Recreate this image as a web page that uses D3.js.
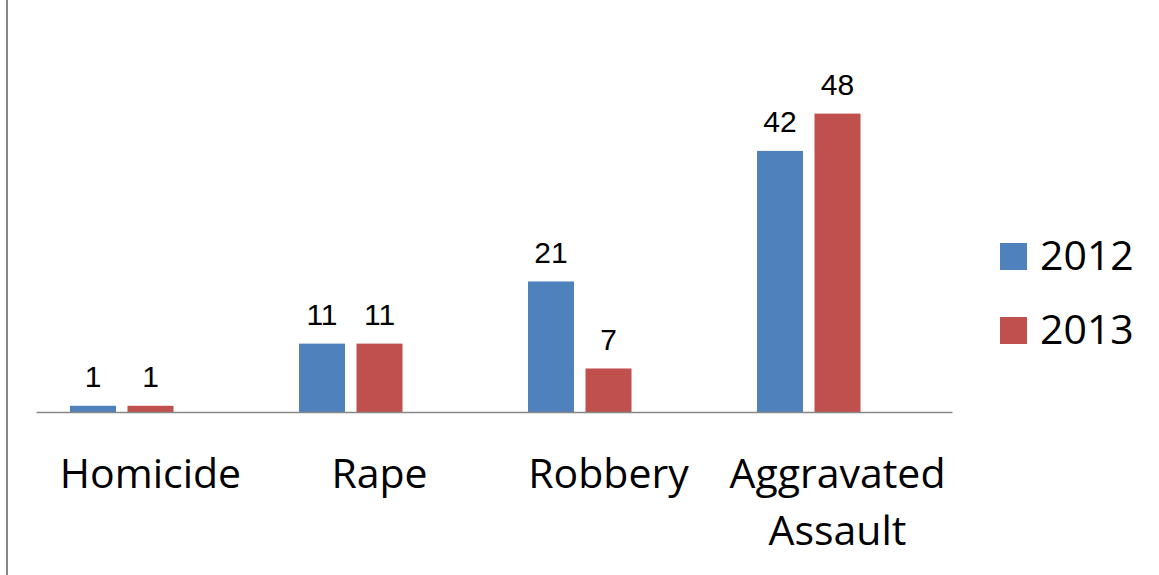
<!DOCTYPE html>
<html>
<head>
<meta charset="utf-8">
<script src="https://cdn.jsdelivr.net/npm/d3@7"></script>
<style>
  html, body { margin: 0; padding: 0; background: #fff; }
  svg { display: block; }
</style>
</head>
<body>
<svg id="chart" width="1159" height="575"></svg>
<script>
// ---- data ----
const categories = ["Homicide", "Rape", "Robbery", "Aggravated Assault"];
const seriesNames = ["2012", "2013"];
const values2012 = [1, 11, 21, 42];
const values2013 = [1, 11, 7, 48];
const seriesColors = ["#4F81BD", "#C0504D"];

// ---- layout ----
const W = 1159, H = 575;
const plot = { left: 36, right: 952, top: 39, bottom: 412 };
const svg = d3.select("#chart");

const x = d3.scaleBand().domain(categories).range([plot.left, plot.right]).padding(0);
// three slots per category (the third is an empty slot, as in the original layout)
const slots = [...seriesNames, "_empty"];
const xs = d3.scaleBand().domain(slots).range([0, x.bandwidth()])
  .paddingInner(0.2).paddingOuter(0.591);
const y = d3.scaleLinear().domain([0, 60]).range([plot.bottom, plot.top]);

// left frame border
svg.append("line")
  .attr("x1", 7).attr("x2", 7).attr("y1", 0).attr("y2", H)
  .attr("stroke", "#878787").attr("stroke-width", 2);

const seriesData = [values2012, values2013];
const rows = [];
seriesData.forEach((vals, si) => {
  vals.forEach((v, ci) => rows.push({ cat: categories[ci], series: seriesNames[si], si, v }));
});

// bars
svg.append("g").selectAll("rect").data(rows).join("rect")
  .attr("x", d => x(d.cat) + xs(d.series))
  .attr("y", d => y(d.v))
  .attr("width", xs.bandwidth())
  .attr("height", d => y(0) - y(d.v))
  .attr("fill", d => seriesColors[d.si]);

// value labels
svg.append("g").selectAll("text").data(rows).join("text")
  .attr("x", d => x(d.cat) + xs(d.series) + xs.bandwidth() / 2)
  .attr("y", d => y(d.v) - 18.5)
  .attr("text-anchor", "middle")
  .attr("font-family", "'Liberation Sans', Arial, sans-serif")
  .attr("font-size", 30)
  .attr("fill", "#000")
  .text(d => d.v);

// baseline axis
const axis = svg.append("g").attr("transform", `translate(0,${plot.bottom})`)
  .call(d3.axisBottom(x).tickSize(0).tickFormat(""));
axis.select(".domain").attr("stroke", "#878787").attr("stroke-width", 1.6);

// category labels (wrap two-word long label)
const catLines = {
  "Homicide": ["Homicide"],
  "Rape": ["Rape"],
  "Robbery": ["Robbery"],
  "Aggravated Assault": ["Aggravated", "Assault"]
};
const catG = svg.append("g");
categories.forEach(c => {
  const t = catG.append("text")
    .attr("x", x(c) + x.bandwidth() / 2)
    .attr("y", 488)
    .attr("text-anchor", "middle")
    .attr("font-family", "'Open Sans', 'Noto Sans', sans-serif")
    .attr("font-size", 41)
    .attr("fill", "#000");
  catLines[c].forEach((ln, i) => {
    t.append("tspan").attr("x", x(c) + x.bandwidth() / 2).attr("y", 488 + i * 57).text(ln);
  });
});

// legend
const lg = svg.append("g").attr("transform", "translate(1000,243)");
seriesNames.forEach((s, i) => {
  lg.append("rect").attr("x", 0).attr("y", i * 74).attr("width", 27).attr("height", 27)
    .attr("fill", seriesColors[i]);
  lg.append("text").attr("x", 40).attr("y", i * 74 + 27)
    .attr("font-family", "'Open Sans', 'Noto Sans', sans-serif")
    .attr("font-size", 41).attr("fill", "#000").text(s);
});
</script>
</body>
</html>
